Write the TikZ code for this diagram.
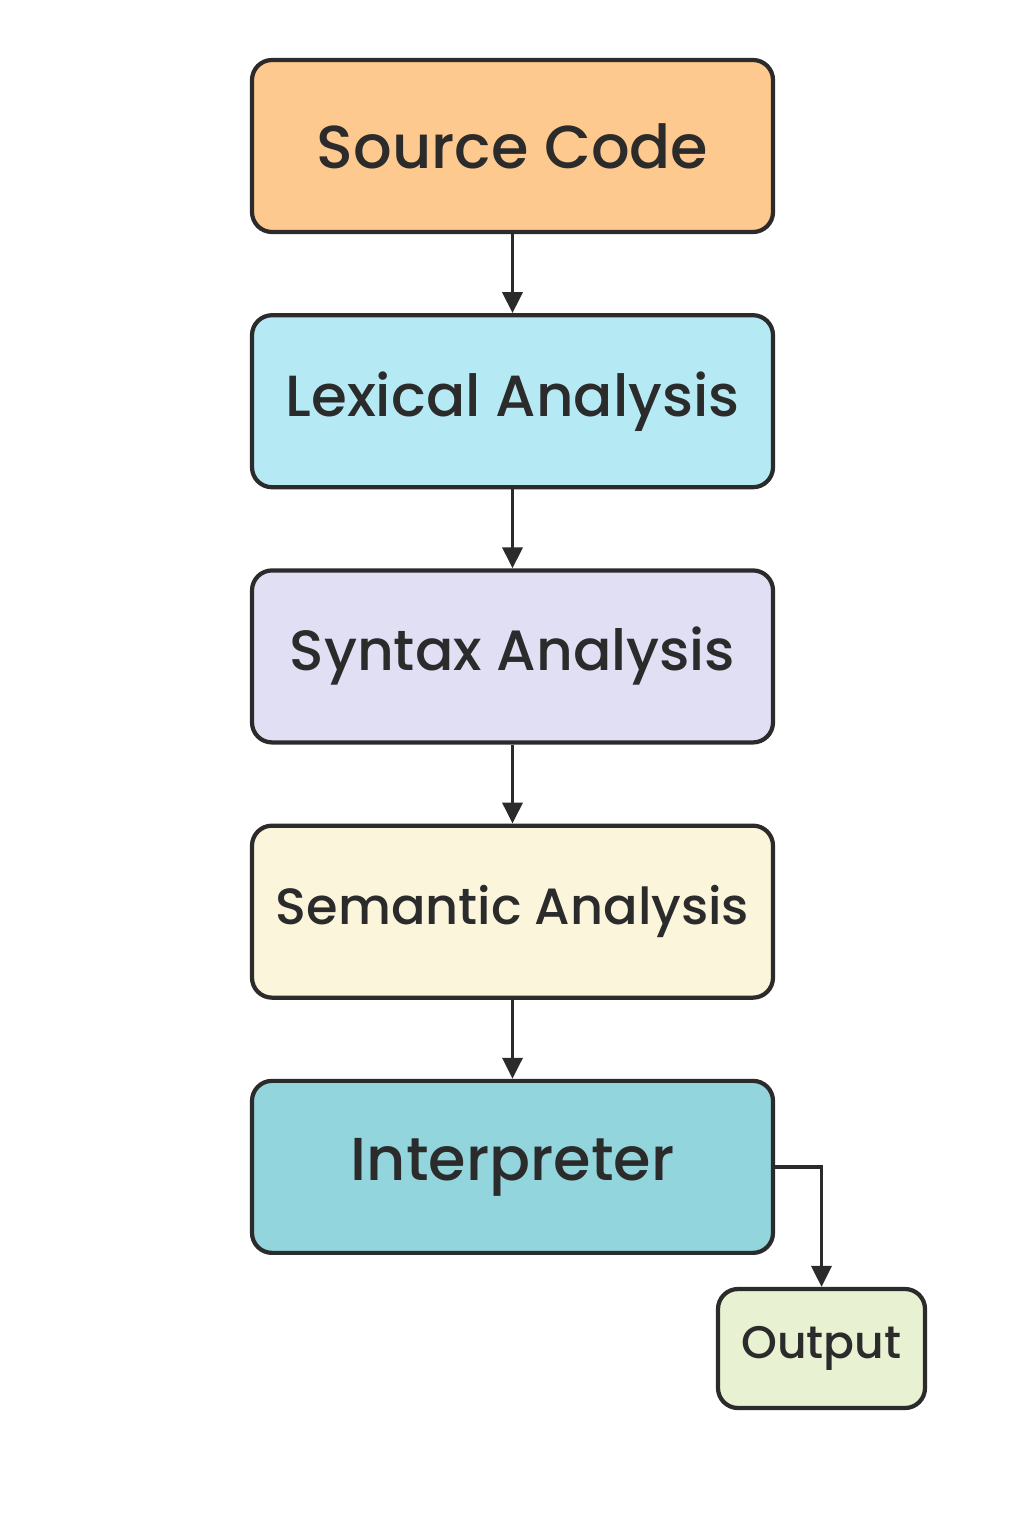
\documentclass[tikz,border=0pt]{standalone}
\usepackage{fontspec}
\setmainfont{Poppins}[UprightFont=* Medium]
\usetikzlibrary{positioning,arrows.meta}

\definecolor{edge}{HTML}{2B2B2B}
\definecolor{srcfill}{HTML}{FDC98F}
\definecolor{lexfill}{HTML}{B5EAF5}
\definecolor{synfill}{HTML}{E1DFF4}
\definecolor{semfill}{HTML}{FBF5DC}
\definecolor{intfill}{HTML}{93D5DC}
\definecolor{outfill}{HTML}{E8F2D2}

\tikzset{
    stage/.style={draw=edge, line width=2.4pt, rounded corners=0.4cm,
        minimum width=10.42cm, minimum height=3.44cm, text=edge},
    fs/.style={font=\fontsize{#1}{#1}\selectfont},
    flow/.style={draw=edge, line width=2pt, -{Triangle[length=0.42cm, width=0.4cm]}},
}

\begin{document}
\begin{tikzpicture}[node distance=1.58cm]
        \useasboundingbox (0,0) rectangle (20.48,-30.72);
        \node [stage, fs=34.5, fill=srcfill] (src) at (10.25,-2.92) {Source Code};
        \node [stage, fs=33, fill=lexfill, below=of src] (lex) {Lexical Analysis};
        \node [stage, fs=32.3, fill=synfill, below=of lex] (syn) {Syntax Analysis};
        \node [stage, fs=29, fill=semfill, below=of syn] (sem) {Semantic Analysis};
        \node [stage, fs=34.5, fill=intfill, below=of sem] (interp) {Interpreter};
        \node [stage, fs=26, fill=outfill, minimum width=4.14cm, minimum height=2.38cm]
            (out) at (16.43,-26.97) {Output};
        \draw [flow] (src) -- (lex);
        \draw [flow] (lex) -- (syn);
        \draw [flow] (syn) -- (sem);
        \draw [flow] (sem) -- (interp);
        \draw [flow] (interp.east) -| (out.north);
    \end{tikzpicture}
\end{document}
